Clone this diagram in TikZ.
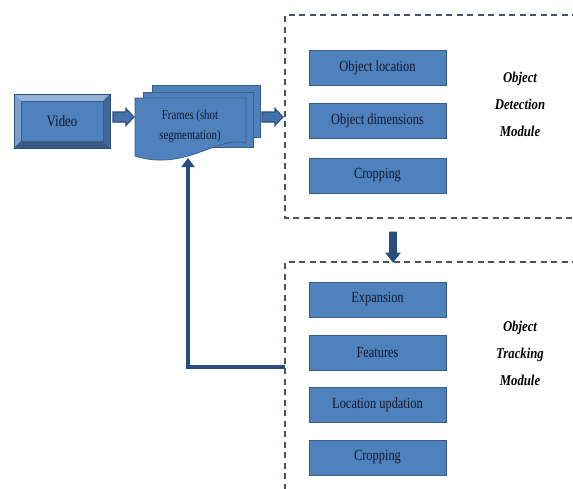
\documentclass[tikz,border=0pt]{standalone}
\usepackage{fontspec}
\setmainfont{Liberation Serif}
\newfontfamily\condfont[FakeStretch=0.8]{Liberation Serif}
\newfontfamily\labfont[FakeStretch=0.85]{Liberation Serif}
\usetikzlibrary{arrows.meta}
\definecolor{boxfill}{HTML}{4F81BD}
\definecolor{boxedge}{HTML}{385D8A}
\definecolor{darkblue}{HTML}{2B4C7E}
\definecolor{arrfill}{HTML}{4672AC}
\definecolor{dashcol}{HTML}{44526A}
\definecolor{txtcol}{HTML}{10182C}
\begin{document}
\begin{tikzpicture}[x=1pt,y=-1pt,
  stepbox/.style={draw=boxedge,fill=boxfill,line width=0.8pt,minimum width=137pt,minimum height=35pt,inner sep=0pt,text=txtcol,font=\condfont\fontsize{15.5}{17}\selectfont},
  modlabel/.style={align=center,text=black,font=\labfont\fontsize{15}{27}\selectfont\bfseries\itshape},
  blockarr/.style={draw=darkblue,fill=arrfill,line width=1.1pt,line join=miter},
  modbox/.style={draw=dashcol,line width=1.1pt,dash pattern=on 6pt off 4.5pt},
  docpage/.style={draw=boxedge,fill=boxfill,line width=0.8pt},
  feedback/.style={draw=darkblue,line width=4pt,-{Triangle[length=9pt,width=13pt]}},
  rarrow/.pic={\draw[blockarr] (0,-5) -- (13,-5) -- (13,-8.5) -- (21,0) -- (13,8.5) -- (13,5) -- (0,5) -- cycle;},
  darrow/.pic={\draw[draw=darkblue,fill=darkblue,line width=0.8pt] (-3.5,0) -- (3.5,0) -- (3.5,21) -- (7,21) -- (0,30) -- (-7,21) -- (-3.5,21) -- cycle;}
]
\useasboundingbox (0,0) rectangle (573,488);
\clip (0,0) rectangle (573,488);
\fill[white] (0,0) rectangle (573,488);

% Video bevel box
\fill[boxfill!85!black] (14,94) rectangle (110,148);
\fill[boxfill!60!white] (14,94) -- (110,94) -- (103,101) -- (21,101) -- cycle;
\fill[boxfill!75!white] (14,94) -- (21,101) -- (21,141) -- (14,148) -- cycle;
\fill[boxfill!70!black] (14,148) -- (21,141) -- (103,141) -- (110,148) -- cycle;
\fill[boxfill!80!black] (110,94) -- (103,101) -- (103,141) -- (110,148) -- cycle;
\draw[darkblue,line width=0.8pt] (14,94) rectangle (110,148);
\node[draw=boxedge,fill=boxfill,line width=0.5pt,minimum width=82pt,minimum height=40pt,inner sep=0pt,text=txtcol,font=\condfont\fontsize{16}{18}\selectfont] (video) at (62,121) {Video};

% Frames (multi-document)
\draw[docpage] (152,85) rectangle (260,137);
\draw[docpage] (143,92) rectangle (253,147);
\draw[docpage] (135,98) -- (246,98) -- (246,143) .. controls (218,135) and (185,172) .. (135,156) -- cycle;
\node[align=center,text=txtcol,font=\condfont\fontsize{13.5}{20}\selectfont] (frames) at (190,126) {Frames (shot\\segmentation)};
\coordinate (framesbottom) at (188,158);

% block arrows
\coordinate (a1) at (113,117);
\coordinate (a2) at (262,117);
\pic at (a1) {rarrow};
\pic at (a2) {rarrow};

% Detection module
\draw[modbox] (620,15) -- (285,15) -- (285,218) -- (620,218);
\node[stepbox] (loc) at (377.5,68) {Object location};
\node[stepbox] (dim) at (377.5,120.5) {Object dimensions};
\node[stepbox] (crop1) at (377.5,175.5) {Cropping};
\node[modlabel] (detlabel) at (520,104) {Object\\Detection\\Module};

% down arrow
\coordinate (a3) at (393,232);
\pic at (a3) {darrow};

% Tracking module
\draw[modbox] (620,262) -- (285,262) -- (285,520);
\coordinate (trkleft) at (285,367);
\node[stepbox] (exp) at (377.5,299.5) {Expansion};
\node[stepbox] (feat) at (377.5,352.5) {Features};
\node[stepbox] (locup) at (377.5,404.5) {Location updation};
\node[stepbox] (crop2) at (377.5,457.5) {Cropping};
\node[modlabel] (trklabel) at (520,353) {Object\\Tracking\\Module};

% feedback
\draw[feedback] (trkleft) -| (framesbottom);
\end{tikzpicture}
\end{document}
